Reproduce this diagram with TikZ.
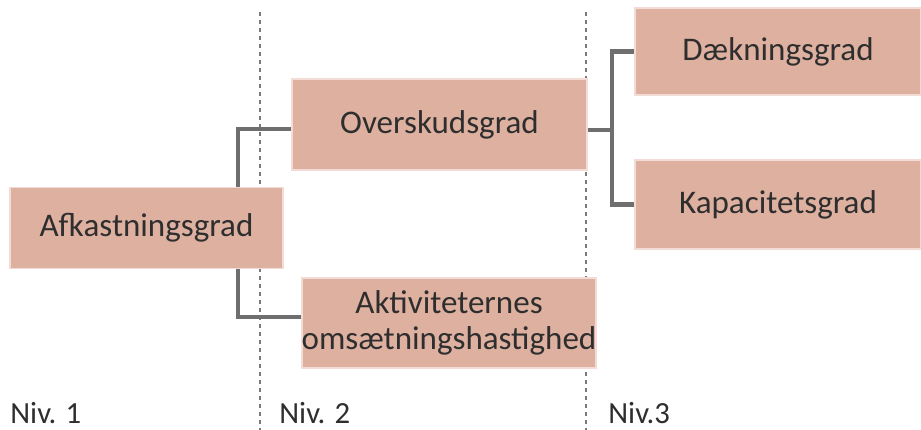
\documentclass[tikz,border=0pt]{standalone}
\usepackage{fontspec}
\setmainfont{Carlito}
\usetikzlibrary{positioning}
\usetikzlibrary{calc}
\usetikzlibrary{backgrounds}
\definecolor{boxfill}{HTML}{DEB0A0}
\definecolor{boxrim}{HTML}{F2DCD5}
\definecolor{linkgray}{HTML}{6E6E6E}
\definecolor{dashgray}{HTML}{7A7A7A}
\definecolor{textgray}{HTML}{2E2E2E}

\begin{document}
\begin{tikzpicture}[x=0.02cm,y=-0.02cm]
		\tikzset{ratio/.style = {shape=rectangle,fill=boxfill,draw=boxrim,line width=1pt,inner sep=0pt,align=center,text=textgray,font=\fontsize{18.8}{20.5}\selectfont}}
		\tikzset{level/.style = {anchor=base west,inner sep=0pt,text=textgray,font=\fontsize{17.5}{20}\selectfont}}
		\tikzset{edge/.style = {draw=linkgray,line width=2.3pt}}
		\tikzset{divider/.style = {draw=dashgray,line width=1.1pt,dash pattern=on 0.08cm off 0.08cm}}
		\useasboundingbox (0,0) rectangle (921,430);
		% vertices
		\node[ratio, minimum width=5.46cm, minimum height=1.62cm] (afk) at (146.5,228) {Afkastningsgrad};
		\node[ratio, minimum width=5.9cm, minimum height=1.82cm] (ovr) at (439.5,124.5) {Overskudsgrad};
		\node[ratio, minimum width=5.84cm, minimum height=1.8cm] (akt) at (449,323) {Aktiviteternes\\omsætningshastighed};
		\node[ratio, minimum width=5.72cm, minimum height=1.74cm] (dk) at (778,51.5) {Dækningsgrad};
		\node[ratio, minimum width=5.72cm, minimum height=1.78cm] (kap) at (778,204.5) {Kapacitetsgrad};
		
		% levels
		\node[level] (niv1) at (10,423) {Niv. 1};
		\node[level] (niv2) at (279,423) {Niv. 2};
		\node[level] (niv3) at (608,423) {Niv.3};
		
		\coordinate (lj) at (238,129);
		\coordinate (rj) at (612,130);
		
		\begin{scope}[on background layer]
		%dividers
		\draw[divider] (260,12) -- (260,430);
		\draw[divider] (586,12) -- (586,430);
		
		%edges
		\draw[edge] (ovr.west |- lj) -- (lj) |- ($(akt.west)+(0,-6)$);
		
		\draw[edge] (ovr.east |- rj) -- (rj);
		
		\draw[edge] (dk.west) -| (rj) |- (kap.west);
		\end{scope}
		
\end{tikzpicture}
\end{document}
